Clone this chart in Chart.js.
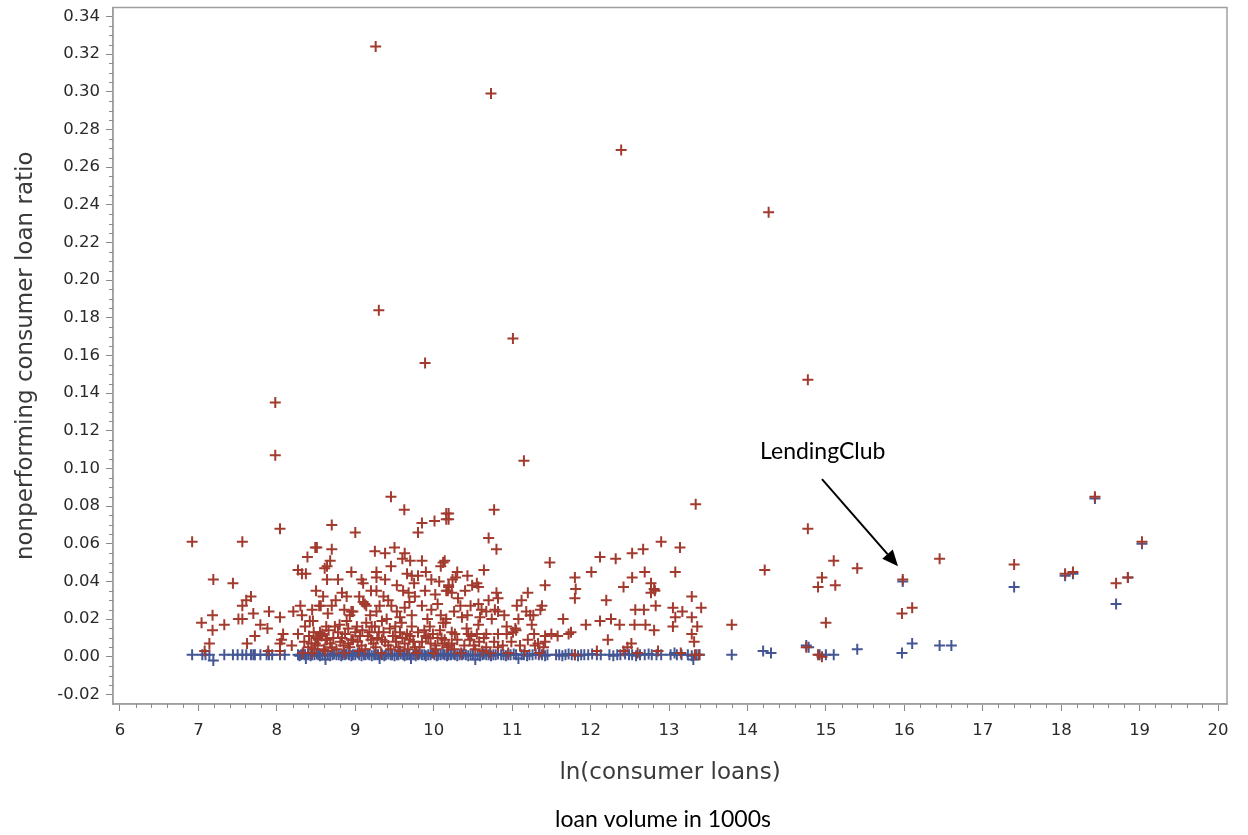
<!DOCTYPE html>
<html><head><meta charset="utf-8">
<script src="https://cdn.jsdelivr.net/npm/chart.js@4.4.1/dist/chart.umd.min.js"></script>
<style>html,body{margin:0;padding:0;background:#fff;}#wrap{width:1248px;height:835px;position:relative;}</style>
</head><body><div id="wrap"><canvas id="c" width="1248" height="835"></canvas></div>
<script>
// ---- data (x = ln(consumer loans), y = nonperforming consumer loan ratio) ----
const redPoints = [
 [9.26,0.324],[10.73,0.299],[12.39,0.269],[14.27,0.236],[9.30,0.184],[11.01,0.169],[9.89,0.156],[14.77,0.147],
 [7.98,0.135],[7.98,0.107],[11.15,0.104],[13.34,0.081],[18.43,0.085],[19.03,0.061],[14.77,0.068],
 [14.22,0.046],[15.10,0.051],[14.95,0.042],[14.90,0.037],[15.12,0.038],[15.00,0.018],[15.40,0.047],[15.98,0.041],
 [15.97,0.023],[16.10,0.026],[16.45,0.052],[17.40,0.049],[18.05,0.044],[18.15,0.045],[18.70,0.039],[18.85,0.042],
 [13.80,0.017],[14.75,0.005],[14.90,0.001],[14.95,0.000],
 [6.92,0.061],[7.56,0.061],[8.04,0.068],[8.49,0.058],[8.39,0.053],[8.27,0.046],[8.32,0.044],[8.37,0.044],[7.19,0.041],
 [7.44,0.039],[7.67,0.032],[7.61,0.030],[7.56,0.027],[7.70,0.023],[7.90,0.024],[8.04,0.021],[8.30,0.027],[8.32,0.022],
 [8.21,0.024],[8.54,0.027],[7.18,0.022],[7.04,0.018],[7.33,0.017],[7.18,0.014],[7.51,0.020],[7.56,0.020],[7.79,0.017],
 [7.88,0.015],[8.36,0.016],[8.42,0.019],[8.46,0.019],[8.27,0.012],[8.08,0.012],[8.06,0.009],[8.04,0.007],[7.72,0.011],
 [7.62,0.007],[7.14,0.007],[7.08,0.003],[7.89,0.003],[8.19,0.006],[8.04,0.003],[8.40,0.005],[8.44,0.007],[8.48,0.004],
 [8.52,0.006],[8.45,0.002],[8.50,0.010],[8.55,0.013],
 [9.455,0.085],[9.625,0.078],[8.70,0.070],[9.00,0.066],[9.85,0.071],[10.01,0.072],[9.80,0.066],[10.16,0.076],[10.16,0.073],
 [8.51,0.058],[8.70,0.057],[8.68,0.051],[8.64,0.048],[8.61,0.047],[9.25,0.056],[9.38,0.055],[9.50,0.058],[9.63,0.055],
 [9.60,0.052],[9.70,0.051],[9.85,0.051],[9.455,0.048],[10.12,0.050],[10.09,0.048],[9.27,0.045],[9.27,0.042],[9.38,0.041],
 [9.08,0.041],[9.10,0.039],[8.64,0.041],[8.78,0.041],[9.66,0.044],[9.72,0.043],[9.75,0.039],[9.80,0.043],[9.97,0.041],
 [10.07,0.040],[10.19,0.038],[8.83,0.034],[8.89,0.032],[9.27,0.035],[9.36,0.032],[9.61,0.035],[9.68,0.034],[9.76,0.032],
 [9.89,0.035],[10.02,0.033],[10.16,0.035],[8.56,0.027],[8.70,0.027],[8.65,0.023],[8.95,0.024],[8.93,0.022],[8.97,0.024],
 [9.10,0.029],[9.14,0.027],[9.12,0.028],[9.27,0.024],[9.31,0.027],[9.46,0.027],[9.53,0.024],[9.63,0.026],[9.72,0.022],
 [9.85,0.027],[9.97,0.025],[10.09,0.022],[10.16,0.020],[8.74,0.016],[8.80,0.017],[8.89,0.019],[8.91,0.015],[9.00,0.013],
 [9.14,0.018],[9.21,0.016],[9.25,0.016],[9.40,0.020],[9.51,0.016],[9.59,0.018],[9.72,0.016],[9.80,0.013],[9.95,0.016],
 [10.08,0.014],[10.12,0.018],
 [8.49,0.007],[8.57,0.011],[8.64,0.009],[8.70,0.005],[8.83,0.010],[8.91,0.007],[8.97,0.009],[9.08,0.006],[9.16,0.011],
 [9.23,0.007],[9.34,0.009],[9.42,0.006],[9.51,0.011],[9.55,0.005],[9.63,0.007],[9.70,0.011],[9.76,0.005],[9.85,0.008],
 [9.93,0.010],[10.02,0.006],[10.10,0.010],[10.17,0.005],
 [8.58,0.012],[8.62,0.009],[8.66,0.014],[8.72,0.010],[8.78,0.013],[8.85,0.006],[8.95,0.009],[9.02,0.016],[9.06,0.011],
 [9.18,0.013],[9.28,0.010],[9.36,0.013],[9.44,0.015],[9.48,0.011],[9.57,0.013],[9.66,0.012],[9.69,0.009],[9.90,0.011],
 [9.99,0.012],[10.05,0.010],
 [8.35,0.008],[8.41,0.011],[8.47,0.013],[8.53,0.009],[8.60,0.004],[8.63,0.016],[8.68,0.007],[8.76,0.004],[8.81,0.008],
 [8.87,0.012],[8.93,0.005],[9.03,0.008],[9.09,0.014],[9.13,0.004],[9.20,0.009],[9.26,0.005],[9.30,0.013],[9.38,0.008],
 [9.45,0.004],[9.52,0.008],[9.60,0.010],[9.67,0.004],[9.74,0.008],[9.82,0.005],[9.88,0.014],[9.96,0.007],[10.03,0.004],
 [10.11,0.007],[10.26,0.004],[10.30,0.009],[10.39,0.006],[10.42,0.015],[10.58,0.008],[10.64,0.010],[10.77,0.008],
 [10.88,0.006],[10.99,0.008],[11.10,0.006],[11.20,0.009],[11.33,0.007],
 [8.45,0.025],[8.59,0.032],[8.75,0.030],[8.86,0.025],[9.05,0.032],[9.19,0.022],[9.34,0.019],[9.42,0.030],[9.57,0.021],
 [9.69,0.029],[9.92,0.020],[10.05,0.028],[10.26,0.024],[10.47,0.027],[10.70,0.030],[10.90,0.022],[11.12,0.030],
 [9.20,0.035],[9.53,0.038],[10.30,0.045],[9.90,0.045],[8.95,0.045],[8.50,0.035],
 [10.19,0.076],[10.19,0.073],[10.77,0.078],[10.70,0.063],[10.80,0.057],[10.14,0.051],[11.48,0.050],[10.64,0.046],
 [10.43,0.043],[10.28,0.042],[10.24,0.041],[10.55,0.039],[10.57,0.037],[11.42,0.038],[11.80,0.042],[11.81,0.036],
 [11.80,0.031],[10.19,0.037],[10.23,0.034],[10.18,0.035],[10.31,0.031],[10.34,0.027],[10.40,0.035],[10.49,0.038],
 [10.80,0.034],[10.82,0.031],[11.20,0.034],[11.06,0.027],[11.18,0.024],[11.23,0.022],[11.27,0.022],[11.38,0.027],
 [11.36,0.025],[10.57,0.028],[10.61,0.025],[10.67,0.024],[10.78,0.025],[10.82,0.024],[10.59,0.021],[10.74,0.020],
 [10.36,0.021],[10.43,0.022],[10.15,0.018],[10.57,0.017],[10.93,0.016],[11.08,0.020],[11.04,0.015],[11.25,0.017],
 [11.65,0.020],[11.75,0.013],[11.72,0.012],[10.23,0.013],[10.27,0.012],[10.44,0.012],[10.48,0.011],[10.55,0.012],
 [10.67,0.012],[10.82,0.012],[10.93,0.012],[11.01,0.013],[11.05,0.014],[11.28,0.012],[11.42,0.011],[11.50,0.012],
 [11.58,0.011],[10.14,0.009],[10.19,0.006],[10.23,0.007],[10.46,0.009],[10.51,0.006],[10.53,0.004],[10.67,0.005],
 [10.72,0.002],[10.82,0.005],[11.29,0.006],[11.40,0.005],[11.42,0.008],
 [12.90,0.061],[12.67,0.057],[12.53,0.055],[13.14,0.058],[12.12,0.053],[12.32,0.052],[12.01,0.045],[12.69,0.045],
 [13.08,0.045],[12.53,0.042],[12.42,0.037],[12.77,0.039],[12.81,0.036],[12.77,0.034],[12.82,0.035],[12.20,0.030],
 [13.29,0.032],[12.57,0.025],[12.68,0.025],[12.83,0.027],[13.05,0.026],[13.17,0.024],[13.08,0.021],[13.41,0.026],
 [12.26,0.020],[12.12,0.019],[11.94,0.017],[12.37,0.017],[12.56,0.017],[12.70,0.017],[12.81,0.014],[13.05,0.016],
 [13.29,0.021],[13.36,0.016],[13.29,0.012],[13.32,0.008],[12.22,0.009],[12.52,0.007],[12.47,0.005],[12.42,0.003],
 [12.08,0.003],[11.80,0.001],[12.86,0.003],[13.33,0.001],[13.38,0.001],
 [8.33,0.002],[8.62,0.003],[8.86,0.002],[9.05,0.003],[9.33,0.002],[9.57,0.003],[9.78,0.002],[10.00,0.002],[10.35,0.002],
 [10.62,0.003],[10.95,0.002],[11.16,0.003],[11.35,0.002],[12.60,0.002],[13.15,0.002]
];
const bluePoints = [
 [6.92,0.001],[7.05,0.001],[7.09,0.001],[7.14,0.001],[7.19,-0.002],[7.33,0.001],[7.44,0.001],[7.50,0.001],[7.56,0.001],
 [7.61,0.001],[7.67,0.001],[7.70,0.001],[7.72,0.001],[7.79,0.001],[7.87,0.001],[7.90,0.001],[7.94,0.001],[8.04,0.001],
 [8.10,0.001],
 [8.27,0.001],[8.29,0.0005],[8.31,0.001],[8.34,0.0015],[8.36,0.001],[8.37,-0.001],[8.40,0.001],[8.43,0.0005],[8.45,0.001],
 [8.48,0.001],[8.51,0.0015],[8.53,0.001],[8.55,0.0005],[8.58,0.001],[8.61,0.001],[8.62,-0.0015],[8.65,0.001],[8.68,0.0005],
 [8.71,0.001],[8.73,0.0015],[8.76,0.001],[8.79,0.001],[8.82,0.0005],[8.84,0.001],[8.87,0.001],[8.89,0.0015],[8.92,0.001],
 [8.95,0.0005],[8.97,0.001],[9.00,0.001],[9.03,0.002],[9.05,0.001],[9.08,0.0005],[9.11,0.001],[9.13,0.001],[9.16,0.0015],
 [9.18,0.001],[9.21,0.0005],[9.24,0.001],[9.26,0.001],[9.29,0.001],[9.31,-0.001],[9.34,0.001],[9.37,0.0005],[9.39,0.001],
 [9.42,0.0015],[9.45,0.001],[9.47,0.001],[9.50,0.0005],[9.53,0.001],[9.55,0.001],[9.58,0.0015],[9.61,0.001],[9.63,0.0005],
 [9.66,0.001],[9.69,0.001],[9.71,-0.001],[9.74,0.001],[9.77,0.0005],[9.80,0.001],[9.82,0.0015],[9.85,0.001],[9.88,0.001],
 [9.90,0.0005],[9.93,0.001],[9.96,0.001],[9.98,0.002],[10.01,0.001],[10.04,0.0005],[10.06,0.001],[10.09,0.001],[10.12,0.0015],
 [10.14,0.001],[10.17,0.0005],[10.19,0.001],[10.22,0.001],[10.25,0.0015],[10.27,0.001],[10.30,0.0005],[10.33,0.001],
 [10.36,0.001],[10.38,0.0015],[10.41,0.001],[10.44,0.0005],[10.47,0.001],[10.50,0.001],[10.53,-0.0015],[10.56,0.001],
 [10.59,0.0005],[10.62,0.001],[10.64,0.0015],[10.67,0.001],[10.70,0.001],[10.73,0.0005],[10.76,0.001],[10.79,0.001],
 [10.82,0.0015],[10.86,0.001],[10.89,0.001],[10.92,0.0005],[10.95,0.001],[10.98,0.001],[11.02,0.0015],[11.05,0.001],
 [11.08,-0.001],[11.12,0.001],[11.15,0.001],[11.19,0.0005],[11.22,0.001],[11.26,0.001],[11.30,0.0015],[11.34,0.001],
 [11.38,0.001],[11.42,0.0005],[11.45,0.001],[11.56,0.001],[11.60,0.001],[11.64,0.0005],[11.68,0.001],[11.72,0.0015],
 [11.76,0.001],[11.80,0.001],[11.84,0.0005],[11.88,0.001],[11.92,0.001],[11.97,0.001],[12.02,0.0015],[12.08,0.001],
 [12.13,0.001],[12.24,0.001],[12.29,0.0005],[12.34,0.001],[12.38,0.001],[12.44,0.0015],[12.49,0.001],[12.53,0.001],
 [12.58,0.0005],[12.63,0.001],[12.69,0.001],[12.74,0.0015],[12.78,0.001],[12.84,0.001],[12.90,0.001],[13.02,0.001],
 [13.07,0.002],[13.10,0.001],[13.16,0.001],[13.24,0.001],[13.29,0.0005],[13.31,-0.0015],[13.35,0.001],[13.39,0.001],
 [13.80,0.001],[14.20,0.003],[14.30,0.002],[14.75,0.006],[14.78,0.005],[14.92,0.001],[15.00,0.001],[15.10,0.001],
 [15.40,0.004],[15.97,0.002],[16.10,0.007],[16.45,0.006],[16.60,0.006],[15.98,0.040],[17.40,0.037],[18.05,0.043],
 [18.15,0.044],[18.43,0.084],[18.70,0.028],[18.85,0.042],[19.03,0.060]
];
const xTickValues = [6,7,8,9,10,11,12,13,14,15,16,17,18,19,20];
const yTickValues = [-0.02,0.00,0.02,0.04,0.06,0.08,0.10,0.12,0.14,0.16,0.18,0.20,0.22,0.24,0.26,0.28,0.30,0.32,0.34];
const annotationText = 'LendingClub';
const annotationLabelAt = [14.96, 0.109];
const arrowFrom = [14.95, 0.0943];
const arrowTo = [15.92, 0.0481];
const captionText = 'loan volume in 1000s';

const RED = '#A23A2E', BLUE = '#445694', AXIS = '#A0A0A0';

const frameAndMinor = {
  id: 'frameAndMinor',
  afterDraw(chart) {
    const ctx = chart.ctx, a = chart.chartArea;
    const xs = chart.scales.x, ys = chart.scales.y;
    ctx.save();
    ctx.strokeStyle = AXIS; ctx.lineWidth = 1.5;
    ctx.strokeRect(a.left, a.top, a.right - a.left, a.bottom - a.top);
    ctx.lineWidth = 1; ctx.strokeStyle = '#8a8a8a';
    ctx.beginPath();
    for (let i = 0; i < xTickValues.length - 1; i++) {
      for (let k = 1; k < 5; k++) {
        const v = xTickValues[i] + (xTickValues[i+1] - xTickValues[i]) * k / 5;
        const px = Math.round(xs.getPixelForValue(v)) + 0.5;
        ctx.moveTo(px, a.bottom); ctx.lineTo(px, a.bottom + 4);
      }
    }
    for (let i = 0; i < yTickValues.length - 1; i++) {
      for (let k = 1; k < 4; k++) {
        const v = yTickValues[i] + (yTickValues[i+1] - yTickValues[i]) * k / 4;
        const py = Math.round(ys.getPixelForValue(v)) + 0.5;
        ctx.moveTo(a.left, py); ctx.lineTo(a.left - 4, py);
      }
    }
    ctx.stroke();
    // annotation
    const fx = xs.getPixelForValue(arrowFrom[0]), fy = ys.getPixelForValue(arrowFrom[1]);
    const tx = xs.getPixelForValue(arrowTo[0]), ty = ys.getPixelForValue(arrowTo[1]);
    const ang = Math.atan2(ty - fy, tx - fx), hl = 16, hw = 7;
    const bx = tx - hl * Math.cos(ang), by = ty - hl * Math.sin(ang);
    ctx.strokeStyle = '#000'; ctx.fillStyle = '#000'; ctx.lineWidth = 2;
    ctx.beginPath(); ctx.moveTo(fx, fy); ctx.lineTo(bx, by); ctx.stroke();
    ctx.beginPath(); ctx.moveTo(tx, ty);
    ctx.lineTo(bx + hw * Math.sin(ang), by - hw * Math.cos(ang));
    ctx.lineTo(bx - hw * Math.sin(ang), by + hw * Math.cos(ang));
    ctx.closePath(); ctx.fill();
    ctx.font = '23px Lato'; ctx.textAlign = 'center'; ctx.textBaseline = 'middle';
    ctx.fillText(annotationText, xs.getPixelForValue(annotationLabelAt[0]), ys.getPixelForValue(annotationLabelAt[1]));
    ctx.fillText(captionText, (a.left + a.right) / 2 - 7, 820);
    ctx.restore();
  }
};

new Chart(document.getElementById('c'), {
  type: 'scatter',
  data: {
    datasets: [
      { label: 'nonperforming', data: redPoints.map(p => ({x: p[0], y: p[1]})),
        pointStyle: 'cross', radius: 5.5, borderColor: RED, backgroundColor: RED, borderWidth: 2, hoverRadius: 5.5 },
      { label: 'other', data: bluePoints.map(p => ({x: p[0], y: p[1]})),
        pointStyle: 'cross', radius: 5.5, borderColor: BLUE, backgroundColor: BLUE, borderWidth: 2, hoverRadius: 5.5 }
    ]
  },
  options: {
    responsive: false, animation: false, devicePixelRatio: 1,
    layout: { padding: { top: 7, right: 21, left: 0, bottom: 40 } },
    plugins: { legend: { display: false }, tooltip: { enabled: false } },
    scales: {
      x: {
        type: 'linear', min: 5.911, max: 20.114,
        afterBuildTicks: s => { s.ticks = xTickValues.map(v => ({ value: v })); },
        afterFit: s => { s.height = 91; s.paddingLeft = 0; s.paddingRight = 0; },
        grid: { drawOnChartArea: false, drawTicks: true, tickLength: 7, tickColor: '#8a8a8a' },
        border: { display: true, color: AXIS, width: 1.5 },
        ticks: { font: { family: 'DejaVu Sans', size: 16.5 }, color: '#2a2a2a', padding: 10, maxRotation: 0,
                 callback: v => String(v) },
        title: { display: true, text: 'ln(consumer loans)', font: { family: 'DejaVu Sans', size: 23 }, color: '#3a3a3a',
                 padding: { top: 4, bottom: 8 } }
      },
      y: {
        type: 'linear', min: -0.0251, max: 0.3447,
        afterBuildTicks: s => { s.ticks = yTickValues.map(v => ({ value: v })); },
        afterFit: s => { s.width = 113; s.paddingTop = 0; s.paddingBottom = 0; },
        grid: { drawOnChartArea: false, drawTicks: true, tickLength: 7, tickColor: '#8a8a8a' },
        border: { display: true, color: AXIS, width: 1.5 },
        ticks: { font: { family: 'DejaVu Sans', size: 16.5 }, color: '#2a2a2a', padding: 6,
                 callback: v => Number(v).toFixed(2) },
        title: { display: true, text: 'nonperforming consumer loan ratio', font: { family: 'DejaVu Sans', size: 23 },
                 color: '#3a3a3a', padding: { top: 12, bottom: 4 } }
      }
    }
  },
  plugins: [frameAndMinor]
});
</script>
</body></html>
